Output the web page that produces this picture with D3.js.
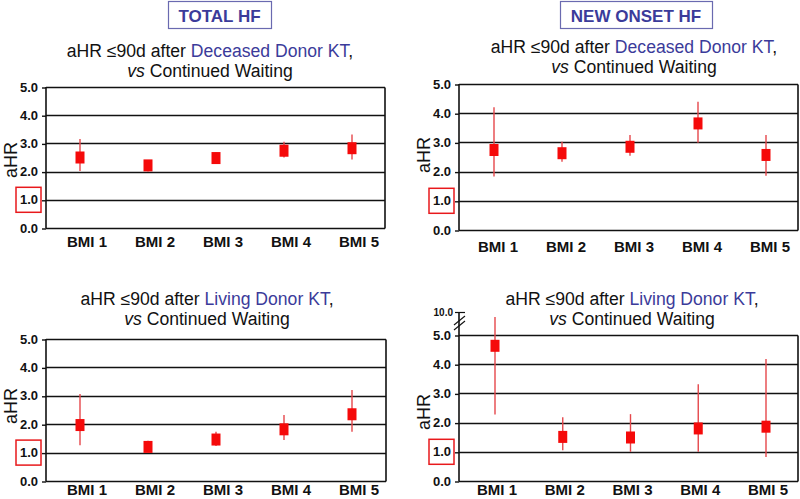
<!DOCTYPE html>
<html><head><meta charset="utf-8">
<script src="https://cdn.jsdelivr.net/npm/d3@7"></script>
<style>
body{margin:0;background:#fff;}
svg{display:block;font-family:Arial,"Liberation Sans",sans-serif;}
</style></head>
<body>
<svg id="chart" width="800" height="499"></svg>
<script>
const categories = ["BMI 1","BMI 2","BMI 3","BMI 4","BMI 5"];
const yTicks = [0,1,2,3,4,5];
const yTickLabels = ["0.0","1.0","2.0","3.0","4.0","5.0"];

// Total HF, deceased donor KT
const totalDeceasedEst = [2.50, 2.22, 2.48, 2.74, 2.83];
const totalDeceasedLo  = [2.02, 2.00, 2.30, 2.50, 2.43];
const totalDeceasedHi  = [3.16, 2.40, 2.68, 3.06, 3.32];
// New onset HF, deceased donor KT
const newDeceasedEst = [2.74, 2.63, 2.85, 3.65, 2.57];
const newDeceasedLo  = [1.83, 2.34, 2.54, 2.99, 1.86];
const newDeceasedHi  = [4.20, 3.02, 3.25, 4.39, 3.25];
// Total HF, living donor KT
const totalLivingEst = [1.97, 1.20, 1.46, 1.82, 2.35];
const totalLivingLo  = [1.26, 1.04, 1.23, 1.44, 1.73];
const totalLivingHi  = [3.06, 1.42, 1.73, 2.32, 3.20];
// New onset HF, living donor KT
const newLivingEst = [4.63, 1.51, 1.49, 1.80, 1.86];
const newLivingLo  = [2.28, 1.05, 1.00, 1.00, 0.82];
const newLivingHi  = [8.90, 2.18, 2.29, 3.31, 4.18];

const svg = d3.select("#chart");
const blueText = "#3b3b9a";
const narrow = "'Liberation Sans Narrow','Arial Narrow',Arial,sans-serif";

// Column header boxes
function header(x0, x1, text) {
  svg.append("rect").attr("x", x0 + 0.5).attr("y", 1.5).attr("width", x1 - x0).attr("height", 27)
    .attr("fill", "none").attr("stroke", "#6a6ab0").attr("stroke-width", 1.2);
  svg.append("text").attr("x", (x0 + x1) / 2).attr("y", 22).attr("text-anchor", "middle")
    .attr("font-size", 17).attr("font-weight", "bold").attr("fill", blueText).text(text);
}
header(168, 271, "TOTAL HF");
header(560, 712, "NEW ONSET HF");

function panel(p) {
  const g = svg.append("g");
  const domainY = p.breakTop ? [0, 5, 10] : [0, 5];
  const rangeY = p.breakTop ? [p.bottom, p.top, p.breakTop] : [p.bottom, p.top];
  const y = d3.scaleLinear().domain(domainY).range(rangeY);
  const x = d3.scalePoint().domain(categories).range([p.x0, p.x1]);

  // subtitle
  const t1 = g.append("text").attr("x", p.cx).attr("y", p.sub1).attr("text-anchor", "middle")
    .attr("font-size", 17.6).attr("fill", "#111");
  t1.append("tspan").text("aHR ≤90d after ");
  t1.append("tspan").attr("fill", blueText).text(p.donor);
  t1.append("tspan").text(",");
  const t2 = g.append("text").attr("x", p.cx).attr("y", p.sub2).attr("text-anchor", "middle")
    .attr("font-size", 17.6).attr("fill", "#111");
  t2.append("tspan").attr("font-style", "italic").text("vs");
  t2.append("tspan").text(" Continued Waiting");

  // gridlines
  g.selectAll("line.grid").data(yTicks.filter(d => d > 0)).join("line")
    .attr("x1", p.left).attr("x2", p.right)
    .attr("y1", d => Math.round(y(d)) + 0.5).attr("y2", d => Math.round(y(d)) + 0.5)
    .attr("stroke", "#111").attr("stroke-width", 1.4);
  // frame right border
  g.append("line").attr("x1", p.right).attr("x2", p.right)
    .attr("y1", Math.round(y(5)) + 0.5).attr("y2", Math.round(y(0)) + 0.5)
    .attr("stroke", "#111").attr("stroke-width", 1.6);

  // y axis
  const axis = d3.axisLeft(y).tickValues(yTicks).tickSize(4).tickPadding(4)
    .tickFormat((d, i) => yTickLabels[i]);
  const ag = g.append("g").attr("transform", `translate(${p.left},0)`).call(axis);
  ag.select(".domain").remove();
  ag.selectAll(".tick line").attr("stroke", "#111").attr("stroke-width", 1.4)
    .attr("transform", "translate(0,0.5)");
  ag.selectAll(".tick text").attr("font-family", narrow).attr("font-weight", "bold")
    .attr("font-size", 13).attr("fill", "#111");
  // axis line & x baseline
  const axTop = p.breakTop ? p.breakTop : y(5);
  g.append("line").attr("x1", p.left).attr("x2", p.left).attr("y1", axTop).attr("y2", y(0) + 0.5)
    .attr("stroke", "#111").attr("stroke-width", 1.6);
  g.append("line").attr("x1", p.left).attr("x2", p.right)
    .attr("y1", Math.round(y(0)) + 0.5).attr("y2", Math.round(y(0)) + 0.5)
    .attr("stroke", "#111").attr("stroke-width", 1.6);

  if (p.breakTop) {
    g.append("line").attr("x1", p.left - 4).attr("x2", p.left + 6)
      .attr("y1", y(10) + 0.5).attr("y2", y(10) + 0.5).attr("stroke", "#111").attr("stroke-width", 1.2);
    g.append("text").attr("x", p.left - 6).attr("y", y(10) + 4).attr("text-anchor", "end")
      .attr("font-family", narrow).attr("font-weight", "bold").attr("font-size", 10).attr("fill", "#111")
      .text("10.0");
    [0, 5].forEach(o => {
      g.append("line").attr("x1", p.left - 5).attr("x2", p.left + 6)
        .attr("y1", y(10) + 13 + o).attr("y2", y(10) + 4 + o)
        .attr("stroke", "#111").attr("stroke-width", 1.1);
    });
  }

  // red box around 1.0
  g.append("rect").attr("x", p.left - 30).attr("y", y(1) - 12.5).attr("width", 25).attr("height", 25)
    .attr("fill", "none").attr("stroke", "#e8191c").attr("stroke-width", 1.5);

  // y title
  g.append("text").attr("transform", `translate(${p.left - 29},${p.ylab}) rotate(-90)`)
    .attr("text-anchor", "middle").attr("font-size", 18).attr("fill", "#111").text("aHR");

  // x labels
  g.selectAll("text.cat").data(categories).join("text").attr("class", "cat")
    .attr("x", d => x(d) + p.labOff).attr("y", p.labY).attr("text-anchor", "middle")
    .attr("font-size", 15).attr("font-weight", "bold").attr("fill", "#111").text(d => d);

  // error bars
  g.selectAll("line.ci").data(categories).join("line").attr("class", "ci")
    .attr("x1", d => x(d)).attr("x2", d => x(d))
    .attr("y1", (d, i) => y(p.lo[i])).attr("y2", (d, i) => y(p.hi[i]))
    .attr("stroke", "#e5474b").attr("stroke-width", 1.4);
  // markers
  g.selectAll("rect.pt").data(categories).join("rect").attr("class", "pt")
    .attr("x", d => x(d) - 4.5).attr("y", (d, i) => y(p.est[i]) - 6)
    .attr("width", 9).attr("height", 12).attr("fill", "#f50a0a");
}

panel({left: 46, right: 385, top: 87, bottom: 228, x0: 80, x1: 352, labOff: 7, labY: 247,
  cx: 210, sub1: 57, sub2: 77, ylab: 160, donor: "Deceased Donor KT",
  est: totalDeceasedEst, lo: totalDeceasedLo, hi: totalDeceasedHi});
panel({left: 459, right: 798, top: 84, bottom: 230, x0: 494, x1: 766, labOff: 4, labY: 252,
  cx: 634, sub1: 53, sub2: 73, ylab: 155, donor: "Deceased Donor KT",
  est: newDeceasedEst, lo: newDeceasedLo, hi: newDeceasedHi});
panel({left: 46, right: 386, top: 339, bottom: 481, x0: 80, x1: 352, labOff: 7, labY: 495,
  cx: 207, sub1: 305, sub2: 325, ylab: 406, donor: "Living Donor KT",
  est: totalLivingEst, lo: totalLivingLo, hi: totalLivingHi});
panel({left: 459, right: 798, top: 335, bottom: 481, breakTop: 312, x0: 495, x1: 766, labOff: 2, labY: 495,
  cx: 632, sub1: 305, sub2: 325, ylab: 412, donor: "Living Donor KT",
  est: newLivingEst, lo: newLivingLo, hi: newLivingHi});
</script>
</body></html>
